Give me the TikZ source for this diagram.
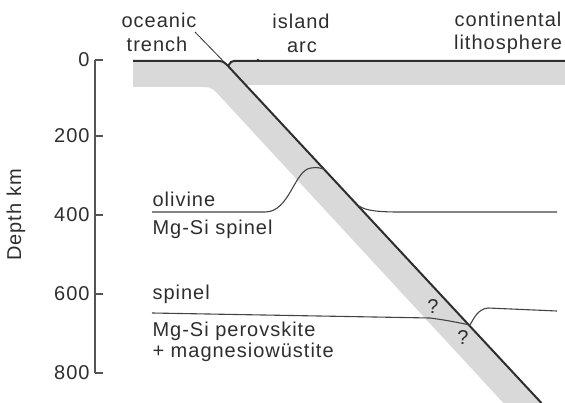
\documentclass[tikz,border=0pt]{standalone}
\usepackage{fontspec}
\setmainfont{Liberation Sans}[LetterSpace=5]
\definecolor{ink}{HTML}{2E2E2E}
\definecolor{slabgray}{HTML}{D9D9D9}
\definecolor{axisgray}{HTML}{555555}
\begin{document}
\begin{tikzpicture}[x=1pt,y=-1pt,line width=1pt,
    font=\fontsize{20}{24}\selectfont,inner sep=0pt,text=ink,
    surface/.style={draw=ink,line width=2pt,line join=round},
    phase/.style={draw=ink!90,line width=1.1pt},
    leader/.style={draw=ink,line width=0.8pt},
    axis/.style={draw=axisgray,line width=1.3pt}]
    \path[use as bounding box] (0,0) rectangle (565,403);
    % lithosphere and slab
    \fill[slabgray] (133,61) -- (220,61) -- (228,66) -- (541.4,403)
      -- (503.4,403) -- (216,92) .. controls (210,87) .. (200,87)
      -- (133,87) -- cycle;
    \fill[slabgray] (231,61) -- (565,61) -- (565,85) -- (245.7,85)
      -- (228,66) -- cycle;
    \coordinate (trench) at (228,66);
    \draw[surface] (133,61) -- (219,61) .. controls (223,61) and (225,63) .. (trench);
    \draw[surface] (trench) -- (231,62) .. controls (232,61) .. (234,61) -- (565,61);
    \draw[surface] (trench) -- (541.4,403);
    \fill[ink] (258,60) circle (1.3pt);
    % depth axis
    \draw[axis] (95,60) -- (95,373);
    \foreach \d/\y in {0/60,200/136,400/215,600/294,800/373} {
      \draw[axis] (95,\y) -- (103,\y);
      \node[anchor=east] (d\d) at (90,\y) {\d};
    }
    \node[rotate=90,anchor=base] (depth) at (21,215) {Depth km};
    % top labels
    \node[anchor=base] (oceanic) at (159,28) {oceanic};
    \node[anchor=base] (trenchlbl) at (157,52) {trench};
    \node[anchor=base] (island) at (301,29) {island};
    \node[anchor=base] (arc) at (302,53) {arc};
    \node[anchor=base] (continental) at (508,27) {continental};
    \node[anchor=base] (lithosphere) at (508,50) {lithosphere};
    \draw[leader] (oceanic.base east) ++(-2,4) -- (trench);
    % 400 km boundary
    \draw[phase] (152,212) -- (265,212) .. controls (290,212) and (294,170) .. (311,168)
      .. controls (317,167) and (321,168) .. (324.7,169.5);
    \draw[phase] (359.2,206) .. controls (366,211) and (380,212) .. (400,212) -- (557,212);
    \node[anchor=base west] (olivine) at (152,207) {olivine};
    \node[anchor=base west] (mgsisp) at (152,235) {Mg-Si spinel};
    % 660 km boundary
    \draw[phase] (152,313) -- (430,318) .. controls (446,320) and (460,323) .. (470,325);
    \draw[phase] (470,325) .. controls (474,318) and (478,309) .. (488,308) -- (557,311);
    \node[anchor=base west] (spinel) at (152,300) {spinel};
    \node[anchor=base west] (perov) at (152,337) {Mg-Si perovskite};
    \node[anchor=base west] (magnes) at (152,358) {+ magnesiowüstite};
    \node (q1) at (433,307) {?};
    \node (q2) at (463,338) {?};
\end{tikzpicture}
\end{document}
